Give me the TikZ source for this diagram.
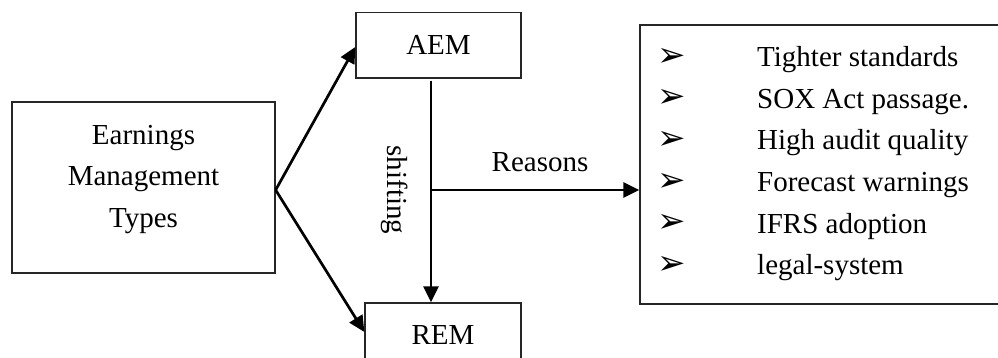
\documentclass[tikz,border=0pt]{standalone}
\usepackage{fontspec}
\setmainfont{Liberation Serif}
\newfontfamily\symfont{DejaVu Sans}
\usetikzlibrary{arrows.meta}
\begin{document}
\begin{tikzpicture}[x=1pt,y=1pt,
  box/.style={draw=black!85,line width=1.3pt,inner sep=0pt},
  arr/.style={line width=2.7pt,-{Triangle[length=16pt,width=15pt]}},
  txt/.style={font=\fontsize{29}{41.6}\selectfont,inner sep=0pt},
  bul/.style={font=\symfont\fontsize{34}{34}\selectfont,inner sep=0pt}]
\path[use as bounding box,clip] (0,0) rectangle (998,358);
% boxes
\node[box,minimum width=263pt,minimum height=171pt] (emt) at (143.5,170.5) {};
\node[txt,align=center] (emtxt) at (143.5,178.5) {Earnings\\Management\\Types};
\node[box,txt,minimum width=165pt,minimum height=65.3pt] (aem) at (438.5,312.65) {AEM};
\node[box,txt,minimum width=156pt,minimum height=65pt] (rem) at (443,22.5) {REM};
\node[box,minimum width=420pt,minimum height=279pt] (rb) at (850,193.5) {};
% list of reasons
\foreach \t [count=\i] in {Tighter standards,SOX Act passage.,High audit quality,Forecast warnings,IFRS adoption,legal-system}{
  \node[bul] (b\i) at (672,{301-(\i-1)*41.65}) {➢};
  \node[txt,anchor=base west] (r\i) at (757,{291.4-(\i-1)*41.65}) {\t};
}
% connectors
\coordinate (fork) at ([yshift=-2.5pt]emt.east);
\draw[arr,line join=miter] (fork) -- ([yshift=-1.6pt]aem.west);
\draw[arr,line join=miter] (fork) -- ([yshift=3.5pt]rem.west);
\draw[arr] ([xshift=-7.5pt,yshift=-2pt]aem.south) -- ([xshift=-12pt]rem.north);
\coordinate (j) at (431,168);
\draw[arr] (j) -- (j -| rb.west);
% labels
\node[txt,anchor=base] (reasons) at (540,186) {Reasons};
\node[txt,rotate=-90] (shift) at (395,168) {shifting};
\end{tikzpicture}
\end{document}
